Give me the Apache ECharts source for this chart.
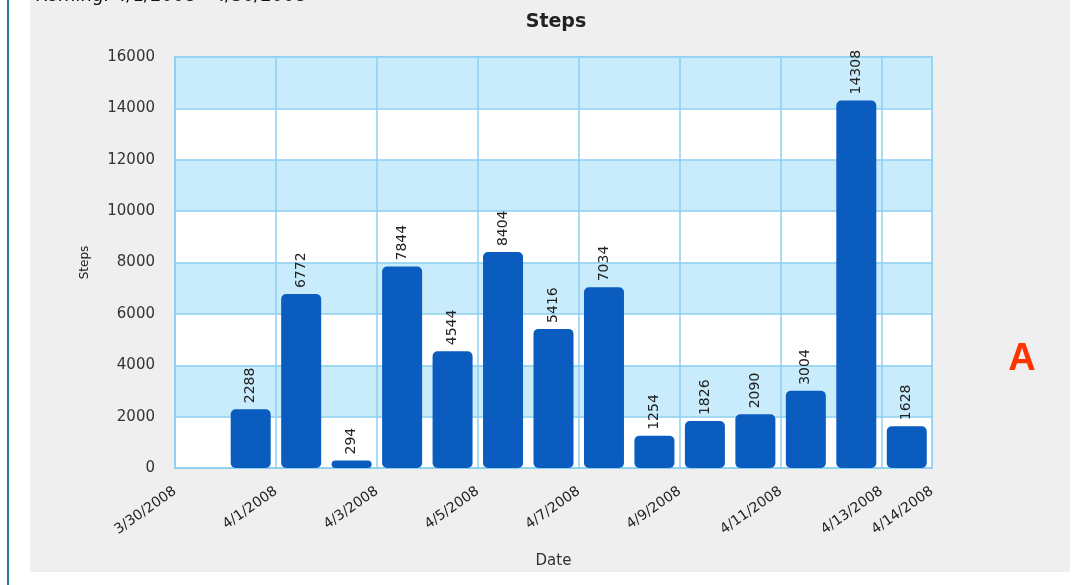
<!DOCTYPE html>
<html>
<head>
<meta charset="utf-8">
<script src="https://cdn.jsdelivr.net/npm/echarts@6/dist/echarts.min.js"></script>
<style>
html,body{margin:0;padding:0;background:#ffffff;}
#chart{width:1076px;height:585px;}
</style>
</head>
<body>
<div id="chart"></div>
<script>
// Data
const dates = ['3/30/2008','3/31/2008','4/1/2008','4/2/2008','4/3/2008','4/4/2008','4/5/2008','4/6/2008','4/7/2008','4/8/2008','4/9/2008','4/10/2008','4/11/2008','4/12/2008','4/13/2008'];
const steps = [0, 2288, 6772, 294, 7844, 4544, 8404, 5416, 7034, 1254, 1826, 2090, 3004, 14308, 1628];
const tickLabels = ['3/30/2008','3/31/2008','4/1/2008','4/2/2008','4/3/2008','4/4/2008','4/5/2008','4/6/2008','4/7/2008','4/8/2008','4/9/2008','4/10/2008','4/11/2008','4/12/2008','4/13/2008','4/14/2008'];
const yTicks = [0, 2000, 4000, 6000, 8000, 10000, 12000, 14000, 16000];

const gridColor = '#8ccff0';
const font = 'DejaVu Sans';

const chart = echarts.init(document.getElementById('chart'), null, {renderer: 'canvas'});
chart.setOption({
  backgroundColor: '#ffffff',
  animation: false,
  graphic: [
    {type: 'rect', z: -10, shape: {x: 30, y: 0, width: 1040, height: 572}, style: {fill: '#efefef'}, silent: true},
    {type: 'rect', z: -10, shape: {x: 7, y: 0, width: 2, height: 585}, style: {fill: '#2b7a99'}, silent: true},
    {type: 'text', x: 35, y: 5, style: {text: 'Roming: 4/1/2008 - 4/30/2008', font: '18px ' + font, fill: '#111', textVerticalAlign: 'bottom'}},
    {type: 'text', x: 1022, y: 360, style: {text: 'A', font: 'bold 38px Liberation Sans', fill: '#ff3300', textAlign: 'center', textVerticalAlign: 'middle'}}
  ],
  title: {
    text: 'Steps', left: 551, top: 8, textAlign: 'center',
    textStyle: {fontFamily: font, fontWeight: 'bold', fontSize: 19, color: '#222'}
  },
  grid: {
    left: 175, right: 144, top: 57, bottom: 117,
    show: true, borderColor: gridColor, borderWidth: 1.5, backgroundColor: 'transparent'
  },
  xAxis: {
    type: 'value', min: 0, max: tickLabels.length - 1, interval: 2,
    name: 'Date', nameLocation: 'middle', nameGap: 86,
    nameTextStyle: {fontFamily: font, fontSize: 15, color: '#333'},
    axisLine: {show: true, lineStyle: {color: gridColor, width: 1.5}},
    axisTick: {show: false},
    splitLine: {show: true, lineStyle: {color: gridColor, width: 1.5}},
    axisLabel: {
      rotate: 35, margin: 22, fontFamily: font, fontSize: 14, color: '#222',
      showMaxLabel: true, showMinLabel: true,
      formatter: v => tickLabels[Math.round(v)]
    }
  },
  yAxis: {
    type: 'value', min: yTicks[0], max: yTicks[yTicks.length - 1], interval: 2000,
    name: 'Steps', nameLocation: 'middle', nameGap: 84, nameRotate: 90,
    nameTextStyle: {fontFamily: font, fontSize: 12, color: '#222'},
    axisLine: {show: true, lineStyle: {color: gridColor, width: 1.5}},
    axisTick: {show: false},
    axisLabel: {margin: 20, fontFamily: font, fontSize: 15, color: '#333', formatter: v => String(v)},
    splitLine: {show: true, lineStyle: {color: gridColor, width: 1.5}},
    splitArea: {show: true, areaStyle: {color: ['#ffffff', '#c8ecfc']}}
  },
  series: [{
    type: 'bar',
    barWidth: 40,
    data: steps.map((v, i) => [i + 0.5, v, dates[i]]),
    itemStyle: {color: '#0a5cbf', borderRadius: 5},
    label: {
      show: true, position: 'top', rotate: 90, align: 'left', verticalAlign: 'middle', distance: 6,
      fontFamily: font, fontSize: 14, color: '#222',
      formatter: p => p.value[1] === 0 ? '' : String(p.value[1])
    }
  }]
});
</script>
</body>
</html>
